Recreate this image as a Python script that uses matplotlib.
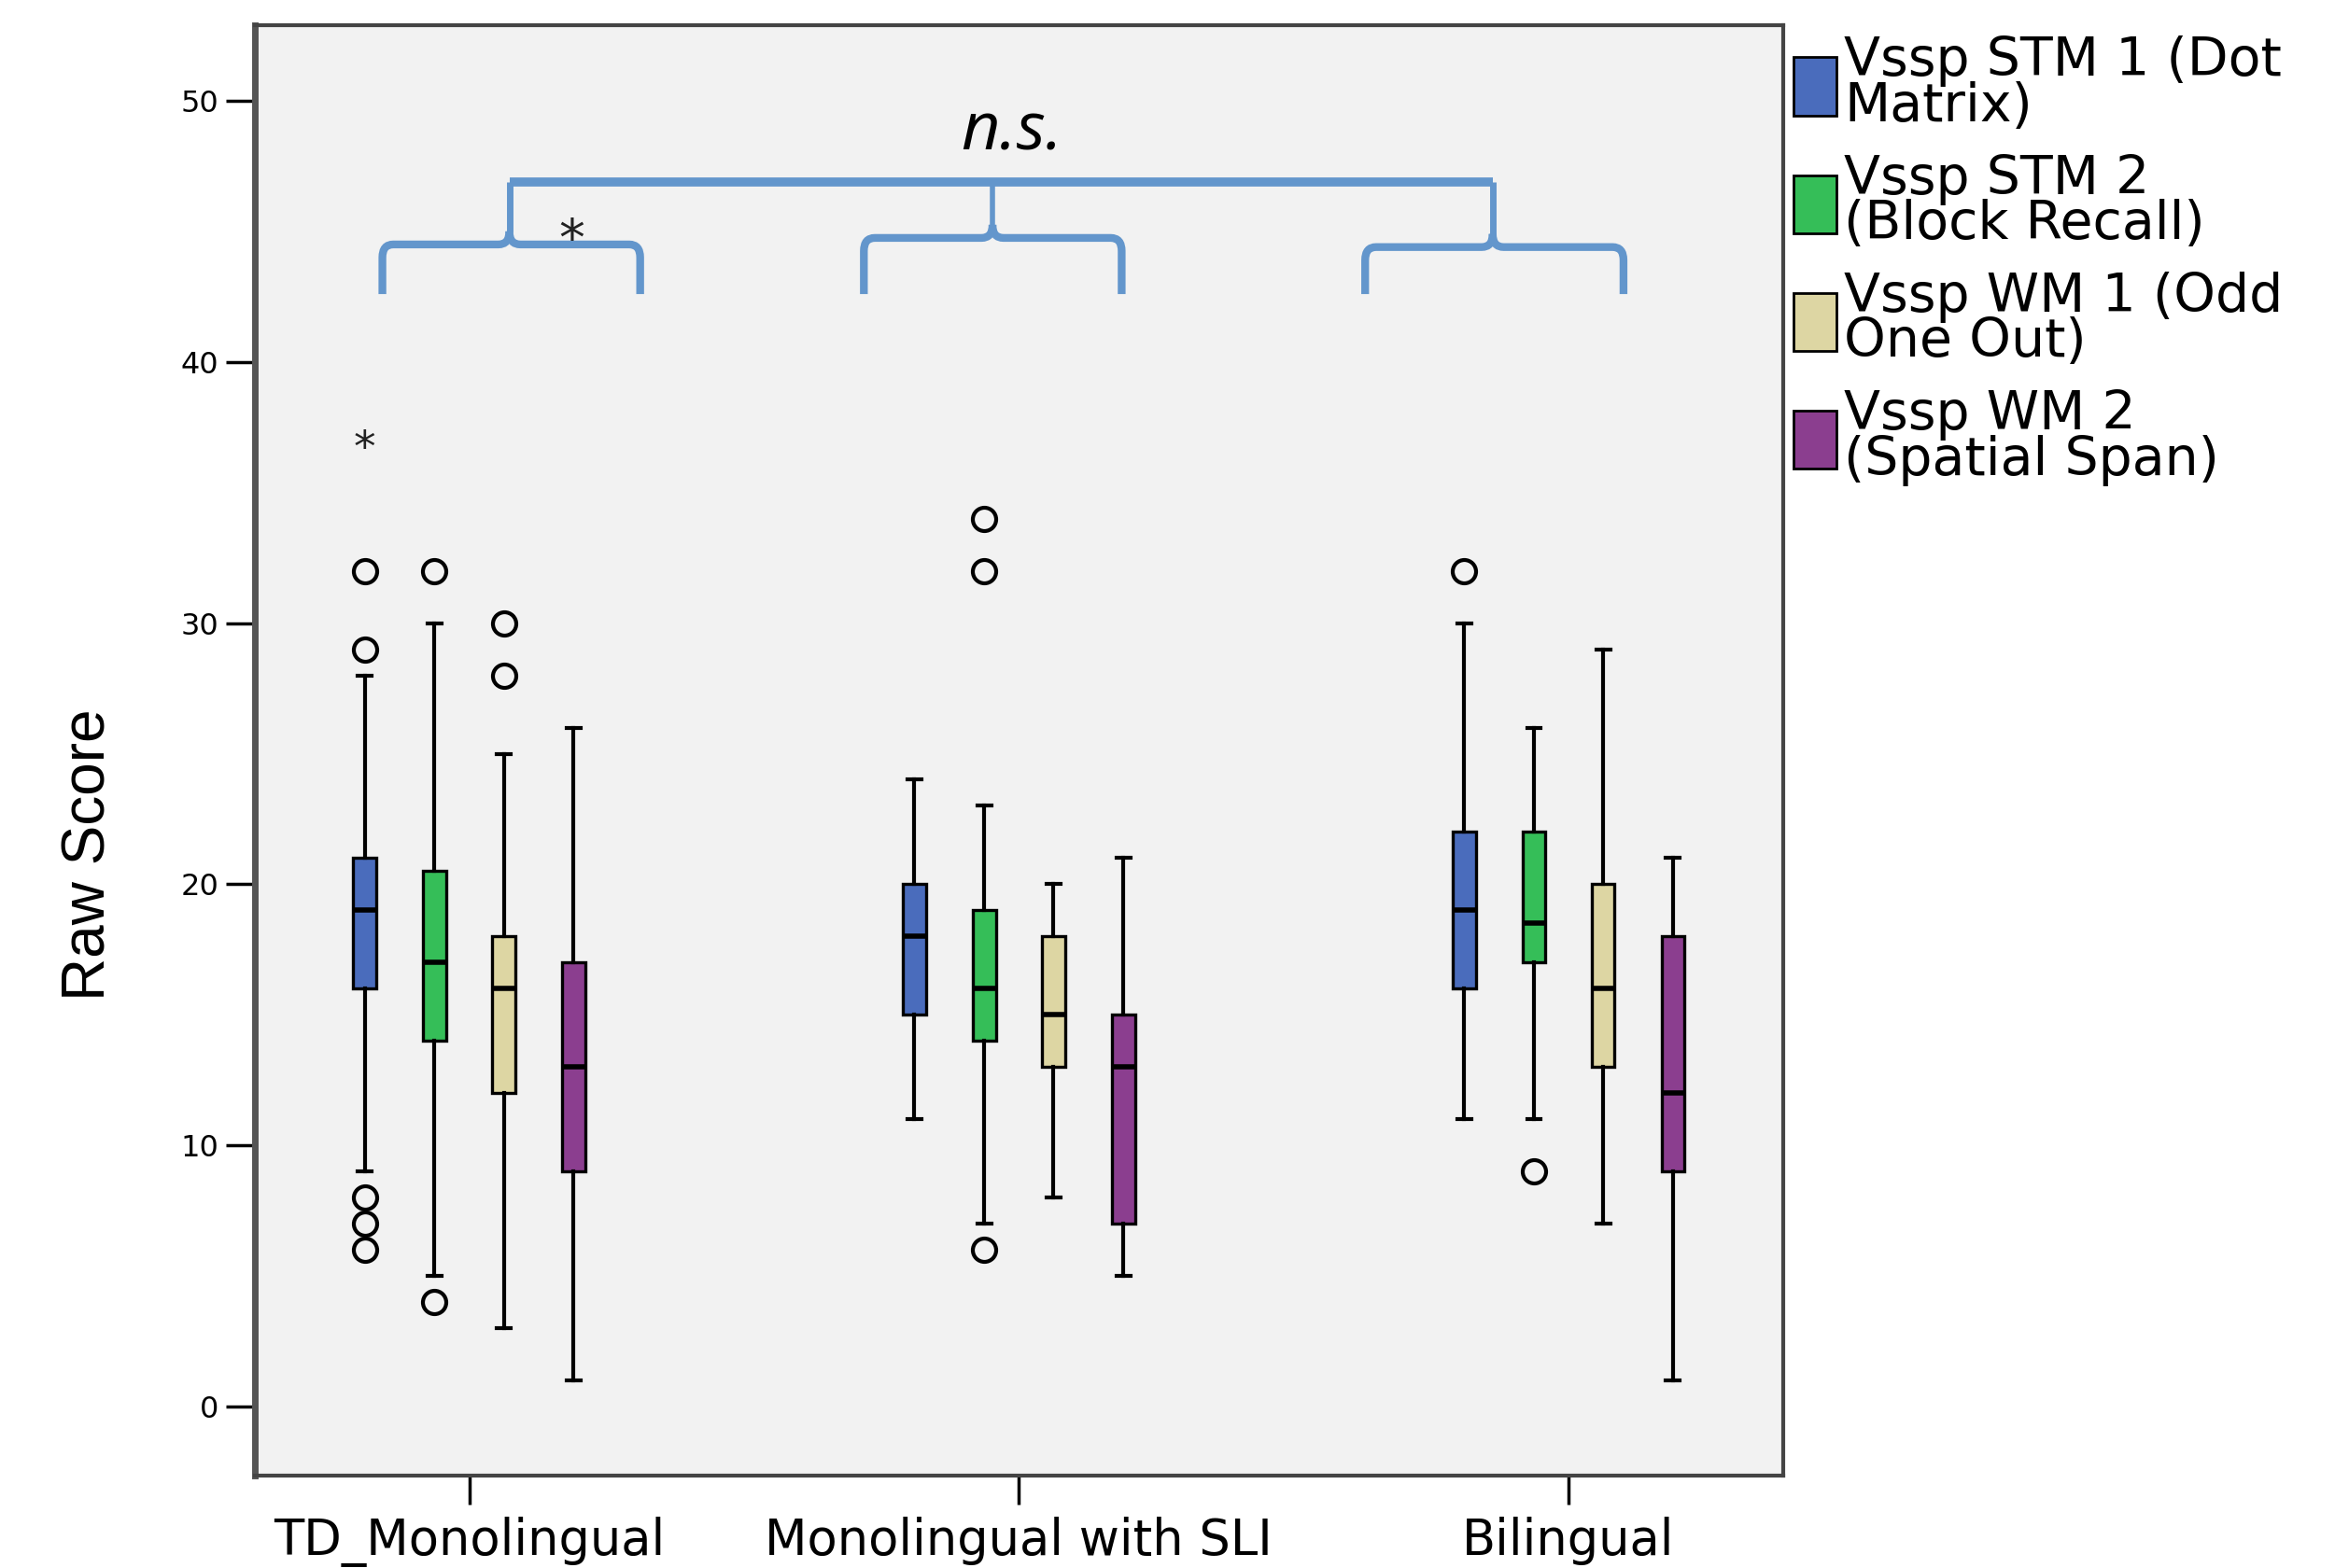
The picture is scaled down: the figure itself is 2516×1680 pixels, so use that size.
import matplotlib
matplotlib.use("Agg")
import matplotlib.pyplot as plt
from matplotlib.path import Path
from matplotlib.patches import PathPatch, Patch
import numpy as np

groups = ["TD_Monolingual", "Monolingual with SLI", "Bilingual"]
series = ["Vssp STM 1 (Dot\nMatrix)", "Vssp STM 2\n(Block Recall)",
          "Vssp WM 1 (Odd\nOne Out)", "Vssp WM 2\n(Spatial Span)"]
colors = ["#4A6CBC", "#35BE58", "#DDD6A3", "#8B3E8F"]

# per group: rows = series (whislo, q1, med, q3, whishi)
td = [[9, 16, 19, 21, 28], [5, 14, 17, 20.5, 30], [3, 12, 16, 18, 25], [1, 9, 13, 17, 26]]
sli = [[11, 15, 18, 20, 24], [7, 14, 16, 19, 23], [8, 13, 15, 18, 20], [5, 7, 13, 15, 21]]
bil = [[11, 16, 19, 22, 30], [11, 17, 18.5, 22, 26], [7, 13, 16, 20, 29], [1, 9, 12, 18, 21]]
five_num = [td, sli, bil]

# outliers (circles) and extremes (stars)
td_out = [[29, 32, 8, 7, 6], [32, 4], [30, 28], []]
sli_out = [[], [34, 32, 6], [], []]
bil_out = [[32], [9], [], []]
outliers = [td_out, sli_out, bil_out]
td_extreme = [[37], [], [], []]
extremes = [td_extreme, [[], [], [], []], [[], [], [], []]]

offsets = [-0.19, -0.063, 0.063, 0.19]
box_w = 0.042

fig = plt.figure(figsize=(25.16, 16.8), dpi=100)
ax = fig.add_axes([0.1085, 0.059, 0.6505, 0.925])
ax.set_facecolor("#F2F2F2")

for g in range(len(groups)):
    for s in range(len(series)):
        lo, q1, med, q3, hi = five_num[g][s]
        st = dict(whislo=lo, q1=q1, med=med, q3=q3, whishi=hi, fliers=[])
        pos = g + offsets[s]
        ax.bxp([st], positions=[pos], widths=box_w, patch_artist=True,
               showfliers=False, capwidths=[box_w * 0.6],
               boxprops=dict(facecolor=colors[s], edgecolor="black", linewidth=2.4),
               medianprops=dict(color="black", linewidth=4),
               whiskerprops=dict(color="black", linewidth=3),
               capprops=dict(color="black", linewidth=3))
        ys = outliers[g][s]
        if ys:
            ax.plot([pos] * len(ys), ys, linestyle="none", marker="o", markersize=18,
                    markerfacecolor="none", markeredgecolor="black", markeredgewidth=3)
        for y in extremes[g][s]:
            # text '*' sits above its centre, so nudge it down a little
            ax.text(pos, y - 0.35, "*", fontsize=34, ha="center", va="center", color="#222222")

# significance brackets
bcol = "#6396CC"


def small_bracket(x0, x1, xc, yb, yt):
    r = 0.02
    h = 0.5
    codes = [Path.MOVETO, Path.LINETO, Path.CURVE3, Path.CURVE3, Path.LINETO, Path.CURVE3, Path.CURVE3]
    for xe, sgn in [(x0, 1), (x1, -1)]:
        verts = [(xe, yb), (xe, yt - h), (xe, yt), (xe + sgn * r, yt), (xc - sgn * r, yt),
                 (xc, yt), (xc, yt + h)]
        ax.add_patch(PathPatch(Path(verts, codes), fill=False, edgecolor=bcol, lw=6, capstyle="butt"))


small_bracket(-0.158, 0.311, 0.073, 42.6, 44.5)
small_bracket(0.718, 1.187, 0.952, 42.6, 44.75)
small_bracket(1.630, 2.100, 1.862, 42.6, 44.4)

ytop = 46.9
ax.plot([0.073, 0.073], [45.0, ytop], color=bcol, lw=5, solid_capstyle="butt")
ax.plot([1.862, 1.862], [44.9, ytop], color=bcol, lw=5, solid_capstyle="butt")
ax.plot([0.952, 0.952], [45.2, ytop], color=bcol, lw=4, solid_capstyle="butt")
ax.plot([0.073, 1.862], [ytop, ytop], color=bcol, lw=7, solid_capstyle="butt")

ax.text(0.987, 48.8, "n.s.", fontsize=52, style="italic", ha="center", va="center",
        family="Open Sans")
ax.text(0.187, 44.6, "*", fontsize=40, ha="center", va="center", color="#222222")

ax.set_xlim(-0.39, 2.39)
ax.set_ylim(-2.64, 52.9)
ax.set_xticks(range(len(groups)))
ax.set_xticklabels(groups, fontsize=38, family="DejaVu Sans")
ax.set_yticks([0, 10, 20, 30, 40, 50])
ax.tick_params(axis="y", labelsize=23, length=22, width=2.5, pad=6)
ax.tick_params(axis="x", length=22, width=2.5, pad=10)
ax.set_ylabel("Raw Score", fontsize=46, family="Liberation Sans")
ax.yaxis.set_label_coords(-0.09, 0.428)

for sp in ax.spines.values():
    sp.set_color("#444444")
    sp.set_linewidth(3)
ax.spines["left"].set_color("#555555")
ax.spines["left"].set_linewidth(5)

handles = [Patch(facecolor=c, edgecolor="black", linewidth=2) for c in colors]
leg = ax.legend(handles, series, loc="upper left", bbox_to_anchor=(1.0, 1.0),
                frameon=False, fontsize=41, handlelength=0.8, handleheight=1.3,
                handletextpad=0.15, borderaxespad=0.05, labelspacing=0.4,
                borderpad=0.15)
for t in leg.get_texts():
    t.set_linespacing(0.85)

fig.savefig("out.png", dpi=100, facecolor="white")
